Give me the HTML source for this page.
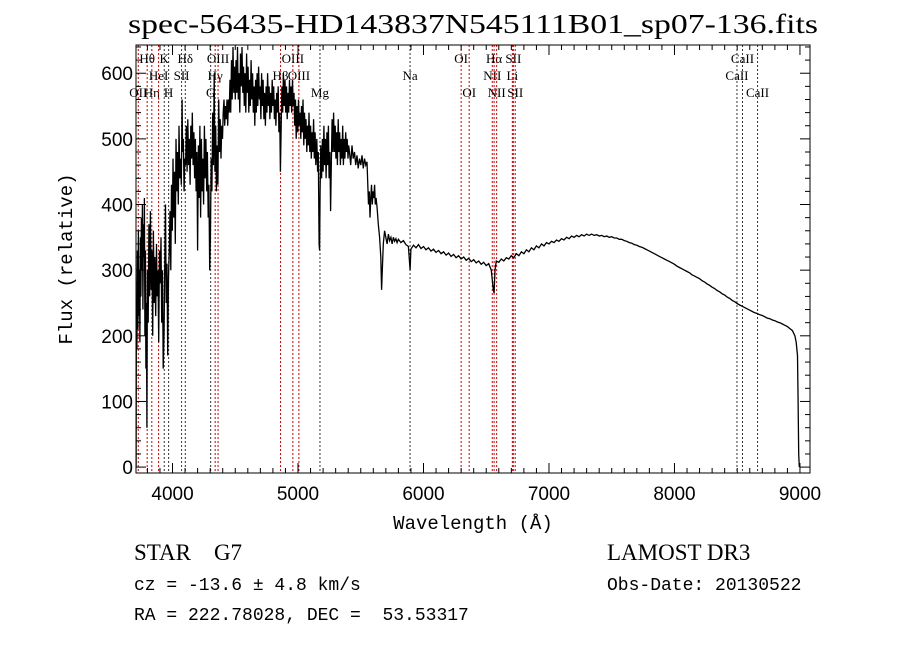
<!DOCTYPE html>
<html><head><meta charset="utf-8">
<style>
html,body{margin:0;padding:0;background:#fff;}
svg{display:block;}
text{fill:#000;white-space:pre;}
</style></head>
<body>
<svg id="chart" width="900" height="649" xmlns="http://www.w3.org/2000/svg" xml:space="preserve">
<rect width="900" height="649" fill="#fff"/>
<text x="128" y="33" textLength="690" lengthAdjust="spacingAndGlyphs" font-family="Liberation Serif, serif" font-size="27">spec-56435-HD143837N545111B01_sp07-136.fits</text>
<text x="473" y="529" text-anchor="middle" font-family="Liberation Mono, monospace" font-size="19">Wavelength (Å)</text>
<text transform="translate(72,259) rotate(-90)" text-anchor="middle" font-family="Liberation Mono, monospace" font-size="19">Flux (relative)</text>
<text x="134" y="560" font-family="Liberation Serif, serif" font-size="23">STAR    G7</text>
<text x="134" y="590" font-family="Liberation Mono, monospace" font-size="18">cz = -13.6 ± 4.8 km/s</text>
<text x="134" y="620" font-family="Liberation Mono, monospace" font-size="18">RA = 222.78028, DEC =  53.53317</text>
<text x="607" y="560" font-family="Liberation Serif, serif" font-size="23">LAMOST DR3</text>
<text x="607" y="590" font-family="Liberation Mono, monospace" font-size="18">Obs-Date: 20130522</text>
<g id="plot"></g>
</svg>
<script>
const wavelengths = [3710,3712,3716,3720,3724,3728,3732,3736,3740,3744,3748,3752,3756,3760,3764,3768,3772,3776,3780,3784,3788,3792,3796,3800,3806,3812,3818,3824,3830,3836,3842,3848,3854,3860,3866,3872,3878,3884,3890,3896,3902,3908,3914,3920,3926,3932,3938,3944,3950,3956,3962,3968,3974,3980,3986,3992,3998,4004,4010,4016,4022,4028,4034,4040,4046,4052,4058,4064,4070,4076,4080,4086,4092,4098,4104,4110,4116,4122,4128,4134,4140,4146,4152,4158,4164,4170,4176,4182,4188,4194,4200,4206,4212,4218,4224,4230,4236,4242,4248,4254,4260,4266,4272,4278,4284,4290,4296,4302,4308,4314,4320,4326,4332,4338,4344,4350,4356,4362,4368,4374,4380,4386,4392,4398,4404,4410,4416,4422,4428,4434,4440,4446,4452,4458,4464,4470,4476,4482,4488,4494,4500,4506,4512,4518,4524,4530,4536,4542,4548,4554,4560,4566,4572,4578,4584,4590,4596,4602,4608,4614,4620,4626,4632,4638,4644,4650,4656,4662,4668,4674,4680,4686,4692,4698,4704,4710,4716,4722,4728,4734,4740,4746,4752,4758,4764,4770,4776,4782,4788,4794,4800,4806,4812,4818,4824,4830,4836,4842,4848,4854,4860,4866,4872,4878,4884,4890,4896,4902,4908,4914,4920,4926,4932,4938,4944,4950,4956,4962,4968,4974,4980,4986,4992,4998,5004,5010,5016,5022,5028,5034,5040,5046,5052,5058,5064,5070,5076,5082,5088,5094,5100,5106,5112,5118,5124,5130,5136,5142,5150,5156,5162,5168,5172,5176,5182,5188,5194,5200,5206,5212,5218,5224,5230,5236,5242,5248,5254,5260,5266,5272,5278,5284,5290,5296,5302,5308,5314,5320,5326,5332,5338,5344,5350,5356,5362,5368,5374,5380,5386,5392,5398,5404,5410,5420,5430,5440,5450,5460,5470,5480,5490,5500,5510,5520,5530,5540,5550,5556,5562,5568,5574,5580,5586,5592,5598,5604,5610,5616,5622,5630,5640,5650,5660,5666,5672,5680,5690,5700,5710,5720,5730,5740,5750,5760,5770,5780,5790,5800,5820,5840,5860,5880,5893,5900,5920,5940,5960,5980,6000,6020,6040,6060,6080,6100,6120,6140,6160,6180,6200,6220,6240,6260,6280,6300,6320,6340,6360,6380,6400,6420,6440,6460,6480,6500,6520,6540,6556,6563,6570,6580,6600,6620,6640,6660,6680,6700,6720,6740,6760,6780,6800,6820,6840,6860,6880,6900,6920,6940,6960,6980,7000,7020,7040,7060,7080,7100,7120,7140,7160,7180,7200,7220,7240,7260,7280,7300,7320,7340,7360,7380,7400,7420,7440,7460,7480,7500,7520,7540,7560,7580,7600,7620,7640,7660,7680,7700,7720,7740,7760,7780,7800,7820,7840,7860,7880,7900,7920,7940,7960,7980,8000,8020,8040,8060,8080,8100,8120,8140,8160,8180,8200,8220,8240,8260,8280,8300,8320,8340,8360,8380,8400,8420,8440,8460,8480,8500,8520,8540,8560,8580,8600,8620,8640,8660,8680,8700,8720,8740,8760,8780,8800,8820,8840,8860,8880,8900,8920,8940,8960,8970,8980,8985,8990,8995];
const fluxValues = [0,250,180,330,210,360,230,300,190,350,260,380,300,400,240,370,320,410,200,330,150,250,60,300,220,370,260,390,270,330,200,360,250,320,230,340,260,300,190,330,280,350,220,300,150,200,300,400,250,310,170,290,330,390,300,430,360,470,380,450,340,500,420,480,400,520,440,470,430,560,480,500,420,470,460,520,450,530,460,500,430,520,470,540,460,510,440,500,420,480,330,490,410,520,380,500,420,470,400,520,440,500,420,480,380,430,300,350,470,420,540,460,600,450,520,420,490,430,560,480,530,470,520,500,540,560,520,550,530,560,520,560,540,590,540,620,560,640,570,610,560,620,570,640,560,600,540,630,580,640,570,610,550,600,540,630,570,610,540,590,550,620,560,600,540,580,520,590,540,600,550,610,560,580,530,600,550,590,530,570,520,580,540,600,550,580,530,570,540,590,550,580,530,560,520,570,540,580,510,540,450,520,580,540,600,550,590,540,580,530,570,540,590,550,580,540,590,550,570,520,560,500,550,510,560,520,540,500,550,510,560,490,540,500,530,480,520,490,540,480,520,470,510,480,530,470,510,460,500,450,480,340,330,420,490,440,500,450,520,460,500,440,510,460,520,440,480,390,470,530,480,540,480,520,470,510,460,530,480,510,460,500,470,520,460,500,470,510,480,500,470,490,480,460,490,470,480,460,475,455,470,460,475,455,470,460,465,430,400,420,380,410,430,400,420,410,430,400,410,395,370,350,320,270,300,340,360,350,340,355,345,350,340,350,344,348,342,347,342,345,339,336,300,332,338,334,339,333,336,331,334,329,332,327,330,325,328,323,326,321,324,319,322,317,320,315,318,313,316,311,314,309,312,307,310,300,270,265,300,314,312,317,314,319,317,322,319,325,322,328,325,331,328,334,331,337,334,340,337,342,340,344,342,346,344,348,346,350,348,352,350,353,351,354,352,355,353,355,353,354,352,353,351,352,350,351,349,349,347,347,345,344,342,341,339,338,336,335,333,331,329,327,325,323,321,319,317,315,313,311,309,306,304,302,300,298,296,293,291,289,287,284,282,279,277,274,272,269,267,264,262,259,257,254,252,249,247,245,243,241,239,237,235,234,232,231,229,227,226,224,223,221,220,218,216,214,211,208,200,190,170,100,20,0];
const xTickLabels = ["4000","5000","6000","7000","8000","9000"];
const xTickValues = [4000,5000,6000,7000,8000,9000];
const yTickLabels = ["0","100","200","300","400","500","600"];
const yTickValues = [0,100,200,300,400,500,600];
const lineNames = ["OII","Hθ","Hη","HeI","SII","K","H","Hδ","G","Hγ","OIII","Hβ","OIII","OIII","Mg","Na","OI","OI","NII","Hα","NII","Li","SII","SII","CaII","CaII","CaII"];
const lineWavelengths = [3727,3798,3835,3889,4072,3934,3969,4102,4304,4340,4363,4861,4959,5007,5175,5893,6300,6364,6548,6563,6583,6708,6716,6731,8498,8542,8662];
const lineRows = [2,0,2,1,1,0,2,0,2,1,0,1,0,1,2,1,0,2,1,0,2,1,0,2,1,0,2];
const lineIsAbsorption = [0,0,0,0,0,1,1,1,1,0,0,0,0,0,1,1,0,0,0,0,0,0,0,0,1,1,1];

const L=136,R=810,T=45,B=473;
const X0=3709,X1=9080;
const Y0=-9,Y1=643;
const sx=w=>L+(w-X0)/(X1-X0)*(R-L);
const sy=f=>B-(f-Y0)/(Y1-Y0)*(B-T);
const NS="http://www.w3.org/2000/svg";
const g=document.getElementById('plot');
function mk(tag,attrs){const e=document.createElementNS(NS,tag);for(const k in attrs)e.setAttribute(k,attrs[k]);g.appendChild(e);return e;}

const defs=mk('defs',{});
const cp=document.createElementNS(NS,'clipPath');cp.setAttribute('id','clip');
const cr=document.createElementNS(NS,'rect');cr.setAttribute('x',L);cr.setAttribute('y',T);cr.setAttribute('width',R-L);cr.setAttribute('height',B-T);
cp.appendChild(cr);defs.appendChild(cp);

lineWavelengths.forEach((w,i)=>{
  const x=sx(w);
  const ln=mk('line',{x1:x,x2:x,y1:T,y2:B,stroke:lineIsAbsorption[i]?'#333':'#c00','stroke-width':1,'stroke-dasharray':'2,2'});
  
  
  const t=mk('text',{x:x,y:T+18+lineRows[i]*17,'text-anchor':'middle','font-family':'Liberation Serif, serif','font-size':13});
  t.textContent=lineNames[i];
  
  
});

let d='';
wavelengths.forEach((w,i)=>{d+=(i?'L':'M')+sx(w).toFixed(1)+','+sy(fluxValues[i]).toFixed(1);});
const p=mk('path',{d:d,fill:'none',stroke:'#000','stroke-width':1.3,'clip-path':'url(#clip)','stroke-linejoin':'miter'});



const fr=mk('rect',{x:L,y:T,width:R-L,height:B-T,fill:'none',stroke:'#000','stroke-width':1});



for(let w=3800;w<=9000;w+=100){
  const x=sx(w);const major=w%1000===0;const len=major?10:5;
  mk('line',{x1:x,x2:x,y1:B,y2:B-len,stroke:'#000'});
  mk('line',{x1:x,x2:x,y1:T,y2:T+len,stroke:'#000'});
}
xTickValues.forEach((v,i)=>{
  const t=mk('text',{x:sx(v),y:B+27,'text-anchor':'middle','font-family':'Liberation Sans, sans-serif','font-size':19});
  t.textContent=xTickLabels[i];
  
  
});
for(let f=0;f<=640;f+=20){
  const y=sy(f);const major=f%100===0;const len=major?10:5;
  mk('line',{x1:L,x2:L+len,y1:y,y2:y,stroke:'#000'});
  mk('line',{x1:R,x2:R-len,y1:y,y2:y,stroke:'#000'});
}
yTickValues.forEach((v,i)=>{
  const t=mk('text',{x:L-3,y:sy(v)+7,'text-anchor':'end','font-family':'Liberation Sans, sans-serif','font-size':19});
  t.textContent=yTickLabels[i];
  
  
});
</script>
</body></html>
